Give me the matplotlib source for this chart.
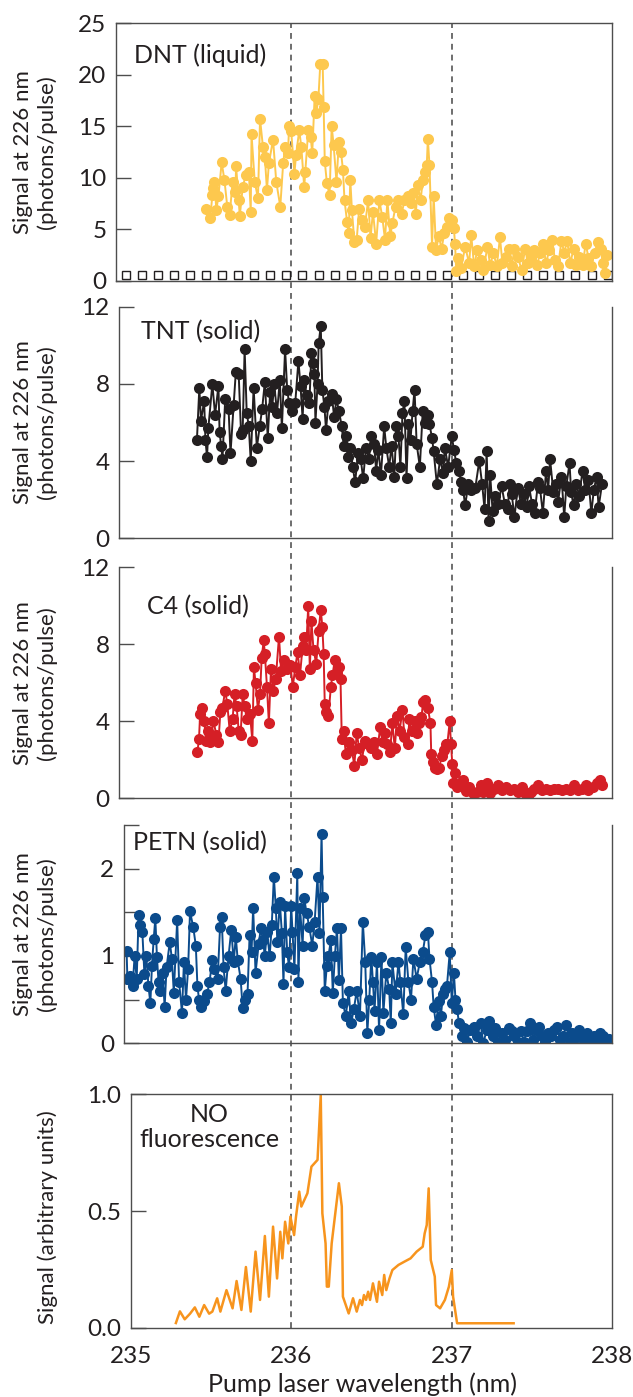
#!/usr/bin/env python3
"""Stacked plot: 226 nm signal vs pump laser wavelength for DNT, TNT, C4 and
PETN, plus the NO fluorescence reference trace at the bottom.

Usage:
    python3 plot.py      # writes out.png
"""

import matplotlib
matplotlib.use("Agg")
import matplotlib.pyplot as plt
from matplotlib.lines import Line2D
from matplotlib.transforms import blended_transform_factory

# ── Data ────────────────────────────────────────────────────────────────────

dnt_wl = [
    235.471, 235.496, 235.509, 235.514, 235.521, 235.534, 235.547, 235.567, 235.584, 235.602,
    235.617, 235.635, 235.652, 235.657, 235.673, 235.680, 235.698, 235.718, 235.736, 235.748,
    235.753, 235.773, 235.793, 235.806, 235.824, 235.836, 235.849, 235.861, 235.887, 235.907,
    235.932, 235.950, 235.962, 235.980, 235.987, 236.000, 236.020, 236.030, 236.050, 236.063,
    236.081, 236.088, 236.106, 236.121, 236.131, 236.146, 236.156, 236.169, 236.181, 236.196,
    236.202, 236.209, 236.222, 236.239, 236.252, 236.264, 236.282, 236.297, 236.310, 236.322,
    236.332, 236.348, 236.358, 236.368, 236.378, 236.393, 236.408, 236.423, 236.441, 236.458,
    236.479, 236.494, 236.509, 236.529, 236.549, 236.567, 236.584, 236.599, 236.617, 236.630,
    236.650, 236.668, 236.688, 236.705, 236.725, 236.743, 236.761, 236.776, 236.788, 236.806,
    236.819, 236.831, 236.844, 236.851, 236.861, 236.877, 236.887, 236.902, 236.919, 236.937,
    236.952, 236.970, 236.982, 237.003, 237.013, 237.020, 237.028, 237.038, 237.058, 237.083,
    237.108, 237.121, 237.139, 237.159, 237.179, 237.196, 237.222, 237.239, 237.259, 237.280,
    237.300, 237.315, 237.335, 237.355, 237.373, 237.390, 237.411, 237.436, 237.456, 237.474,
    237.491, 237.511, 237.532, 237.549, 237.567, 237.587, 237.607, 237.625, 237.642, 237.662,
    237.683, 237.700, 237.718, 237.738, 237.758, 237.776, 237.793, 237.814, 237.834, 237.851,
    237.869, 237.889, 237.909, 237.927, 237.940, 237.952, 237.965,
]
dnt_sig = [
    7.0, 6.1, 8.3, 9.0, 9.6, 6.9, 8.2, 11.5, 9.8, 7.2,
    6.4, 9.6, 8.6, 11.1, 7.8, 6.3, 9.1, 10.3, 10.6, 6.7,
    14.2, 9.6, 8.0, 15.7, 13.0, 12.0, 8.8, 11.4, 13.7, 9.6,
    7.2, 11.4, 13.0, 12.4, 15.0, 14.5, 10.4, 12.2, 14.6, 13.0,
    9.1, 10.6, 14.6, 14.0, 12.4, 17.9, 16.3, 17.6, 21.0, 21.0,
    16.9, 11.6, 9.5, 8.3, 15.0, 13.2, 9.6, 13.5, 12.5, 10.8,
    7.8, 5.7, 4.6, 9.8, 6.9, 3.8, 4.0, 7.0, 5.9, 5.2,
    7.8, 4.1, 6.7, 3.6, 7.8, 6.2, 4.0, 7.8, 4.3, 5.6,
    7.2, 7.8, 6.5, 7.8, 8.2, 7.5, 8.5, 6.5, 9.3, 7.8,
    9.8, 10.6, 11.2, 13.8, 11.2, 3.3, 8.2, 3.0, 4.3, 3.1,
    4.6, 5.2, 6.1, 5.9, 5.1, 3.6, 0.9, 2.2, 1.2, 3.3,
    1.7, 4.4, 1.4, 3.0, 2.0, 1.0, 3.3, 1.5, 2.7, 1.4,
    4.2, 1.7, 2.3, 3.1, 1.4, 3.1, 2.3, 1.0, 3.1, 1.7,
    2.3, 3.0, 1.5, 2.7, 3.6, 1.7, 3.0, 4.0, 2.0, 1.4,
    3.9, 2.7, 3.9, 1.7, 3.1, 1.5, 2.3, 1.5, 3.6, 2.2,
    1.4, 2.7, 3.8, 3.1, 1.7, 0.7, 2.5,
]

# blank (no sample) scan shown as open squares in the DNT panel
blank_wl = [
    234.97, 235.07, 235.17, 235.27, 235.37, 235.47, 235.57, 235.67, 235.77, 235.87,
    235.97, 236.07, 236.17, 236.27, 236.37, 236.47, 236.57, 236.67, 236.77, 236.87,
    236.97, 237.07, 237.17, 237.27, 237.37, 237.47, 237.57, 237.67, 237.77, 237.87,
    237.97,
]
blank_sig = [
    0.55, 0.55, 0.55, 0.55, 0.55, 0.55, 0.55, 0.55, 0.55, 0.55,
    0.55, 0.55, 0.55, 0.55, 0.55, 0.55, 0.55, 0.55, 0.55, 0.55,
    0.55, 0.55, 0.55, 0.55, 0.55, 0.55, 0.55, 0.55, 0.55, 0.55,
    0.55,
]

tnt_wl = [
    235.413, 235.428, 235.438, 235.458, 235.466, 235.476, 235.484, 235.509, 235.526, 235.547,
    235.554, 235.564, 235.572, 235.589, 235.610, 235.622, 235.642, 235.655, 235.673, 235.688,
    235.698, 235.710, 235.723, 235.736, 235.748, 235.766, 235.786, 235.804, 235.819, 235.836,
    235.854, 235.869, 235.882, 235.894, 235.912, 235.929, 235.942, 235.962, 235.975, 235.987,
    236.005, 236.025, 236.045, 236.058, 236.071, 236.081, 236.096, 236.113, 236.126, 236.134,
    236.144, 236.151, 236.164, 236.171, 236.184, 236.194, 236.207, 236.217, 236.232, 236.252,
    236.267, 236.282, 236.297, 236.315, 236.327, 236.340, 236.353, 236.368, 236.383, 236.398,
    236.416, 236.433, 236.448, 236.466, 236.484, 236.499, 236.516, 236.529, 236.542, 236.559,
    236.579, 236.592, 236.610, 236.625, 236.642, 236.655, 236.668, 236.680, 236.693, 236.705,
    236.718, 236.730, 236.743, 236.756, 236.768, 236.781, 236.801, 236.819, 236.831, 236.851,
    236.861, 236.877, 236.887, 236.907, 236.927, 236.945, 236.957, 236.977, 237.000, 237.013,
    237.028, 237.045, 237.058, 237.071, 237.083, 237.103, 237.121, 237.146, 237.171, 237.189,
    237.204, 237.217, 237.229, 237.239, 237.254, 237.272, 237.290, 237.310, 237.330, 237.348,
    237.360, 237.373, 237.390, 237.411, 237.431, 237.448, 237.466, 237.481, 237.499, 237.516,
    237.537, 237.549, 237.567, 237.587, 237.600, 237.612, 237.632, 237.650, 237.662, 237.683,
    237.700, 237.713, 237.733, 237.743, 237.758, 237.776, 237.793, 237.814, 237.831, 237.851,
    237.869, 237.884, 237.902, 237.914, 237.935,
]
tnt_sig = [
    5.1, 7.8, 6.1, 7.1, 5.1, 4.2, 5.7, 8.0, 6.4, 7.9,
    5.5, 4.8, 4.1, 7.2, 6.7, 4.4, 6.9, 8.6, 8.5, 5.4,
    5.6, 9.8, 6.5, 5.8, 4.0, 7.8, 4.7, 5.8, 6.7, 8.1,
    5.2, 7.6, 6.8, 8.0, 6.5, 8.2, 5.7, 9.8, 7.7, 7.0,
    6.6, 7.0, 9.2, 7.9, 6.2, 8.2, 7.4, 7.0, 9.6, 9.1,
    8.5, 6.0, 8.0, 10.1, 11.0, 7.7, 6.8, 5.6, 7.1, 7.5,
    6.3, 7.2, 6.6, 5.8, 4.8, 5.3, 4.2, 4.7, 3.7, 2.9,
    4.4, 4.1, 3.1, 4.7, 4.1, 5.3, 4.9, 3.5, 4.6, 3.3,
    5.8, 4.7, 3.7, 4.8, 3.2, 5.8, 5.3, 3.7, 6.5, 7.1,
    3.1, 5.9, 5.1, 6.6, 7.7, 4.9, 3.7, 6.6, 6.0, 6.4,
    5.9, 5.2, 4.5, 2.8, 4.1, 3.4, 4.7, 3.7, 5.3, 4.6,
    3.9, 3.5, 2.9, 2.5, 1.7, 2.8, 2.5, 2.6, 4.0, 2.8,
    1.5, 4.5, 0.9, 3.3, 1.4, 2.2, 1.8, 2.7, 1.8, 1.5,
    2.8, 2.3, 1.1, 2.6, 1.8, 2.3, 1.6, 2.7, 1.8, 1.3,
    2.9, 2.6, 1.3, 3.5, 2.5, 4.1, 2.4, 2.8, 1.9, 3.2,
    1.1, 2.7, 3.9, 2.4, 1.7, 2.8, 2.2, 3.5, 2.5, 3.0,
    1.3, 2.5, 3.2, 1.6, 2.8,
]

c4_wl = [
    235.416, 235.426, 235.433, 235.446, 235.458, 235.471, 235.484, 235.496, 235.516, 235.534,
    235.547, 235.559, 235.572, 235.589, 235.602, 235.617, 235.635, 235.647, 235.660, 235.673,
    235.685, 235.698, 235.710, 235.723, 235.743, 235.758, 235.768, 235.778, 235.793, 235.806,
    235.816, 235.829, 235.836, 235.849, 235.861, 235.874, 235.889, 235.904, 235.924, 235.937,
    235.955, 235.975, 235.995, 236.010, 236.025, 236.040, 236.055, 236.071, 236.081, 236.093,
    236.106, 236.116, 236.126, 236.139, 236.156, 236.171, 236.184, 236.194, 236.202, 236.209,
    236.219, 236.232, 236.247, 236.257, 236.272, 236.285, 236.297, 236.307, 236.315, 236.327,
    236.340, 236.358, 236.378, 236.393, 236.408, 236.423, 236.441, 236.458, 236.479, 236.499,
    236.516, 236.534, 236.554, 236.569, 236.584, 236.599, 236.615, 236.630, 236.645, 236.660,
    236.675, 236.693, 236.705, 236.725, 236.736, 236.751, 236.768, 236.781, 236.796, 236.811,
    236.821, 236.836, 236.851, 236.867, 236.872, 236.882, 236.894, 236.907, 236.922, 236.937,
    236.952, 236.962, 236.972, 236.987, 236.995, 237.003, 237.008, 237.020, 237.033, 237.053,
    237.071, 237.088, 237.108, 237.129, 237.154, 237.179, 237.196, 237.222, 237.239, 237.265,
    237.290, 237.315, 237.340, 237.365, 237.390, 237.411, 237.436, 237.456, 237.474, 237.491,
    237.511, 237.537, 237.562, 237.587, 237.612, 237.637, 237.662, 237.688, 237.713, 237.738,
    237.758, 237.783, 237.808, 237.834, 237.851, 237.877, 237.902, 237.920, 237.935,
]
c4_sig = [
    2.4, 3.1, 4.4, 4.7, 4.0, 3.0, 3.5, 2.9, 4.0, 3.3,
    2.9, 4.5, 4.7, 5.6, 4.9, 3.5, 4.1, 5.4, 4.8, 3.5,
    3.3, 5.4, 4.8, 4.1, 4.4, 3.0, 6.8, 6.0, 4.6, 5.4,
    7.3, 8.2, 7.5, 5.8, 3.9, 6.7, 5.6, 6.2, 8.4, 6.6,
    7.2, 6.7, 6.9, 5.8, 6.8, 7.6, 6.4, 7.9, 8.4, 7.7,
    10.0, 6.7, 9.2, 7.7, 7.0, 8.7, 9.8, 8.9, 7.5, 4.9,
    4.5, 4.3, 5.8, 6.4, 7.2, 6.5, 6.8, 6.2, 3.1, 3.5,
    2.3, 2.9, 2.5, 1.7, 3.4, 2.6, 2.0, 3.0, 2.8, 2.6,
    2.9, 2.3, 3.7, 2.9, 3.4, 2.8, 2.4, 3.9, 2.6, 4.3,
    3.5, 4.6, 3.2, 2.8, 4.1, 3.5, 4.0, 3.4, 3.9, 4.2,
    5.0, 5.1, 4.7, 3.9, 2.3, 1.9, 1.6, 1.5, 1.6, 2.2,
    2.5, 2.8, 2.8, 4.0, 2.8, 1.8, 0.8, 1.3, 0.6, 0.8,
    0.95, 0.4, 0.6, 0.26, 0.35, 0.7, 0.35, 0.8, 0.26, 0.5,
    0.7, 0.45, 0.6, 0.45, 0.5, 0.35, 0.6, 0.26, 0.1, 0.35,
    0.5, 0.7, 0.45, 0.5, 0.45, 0.47, 0.5, 0.45, 0.5, 0.45,
    0.7, 0.45, 0.5, 0.7, 0.45, 0.6, 0.8, 0.95, 0.7,
]

petn_wl = [
    234.975, 234.980, 234.997, 235.013, 235.025, 235.038, 235.050, 235.060, 235.073, 235.086,
    235.098, 235.111, 235.123, 235.133, 235.144, 235.154, 235.164, 235.174, 235.186, 235.199,
    235.212, 235.224, 235.244, 235.257, 235.269, 235.290, 235.302, 235.320, 235.332, 235.345,
    235.358, 235.370, 235.390, 235.406, 235.416, 235.426, 235.441, 235.458, 235.476, 235.491,
    235.509, 235.521, 235.542, 235.557, 235.567, 235.579, 235.592, 235.610, 235.627, 235.642,
    235.655, 235.667, 235.685, 235.698, 235.710, 235.728, 235.741, 235.753, 235.763, 235.778,
    235.798, 235.811, 235.824, 235.836, 235.849, 235.866, 235.879, 235.892, 235.904, 235.914,
    235.929, 235.942, 235.952, 235.962, 235.975, 235.987, 236.000, 236.008, 236.020, 236.038,
    236.045, 236.055, 236.071, 236.081, 236.096, 236.113, 236.131, 236.146, 236.164, 236.176,
    236.189, 236.196, 236.209, 236.222, 236.232, 236.247, 236.259, 236.272, 236.285, 236.297,
    236.310, 236.322, 236.340, 236.358, 236.373, 236.390, 236.408, 236.428, 236.446, 236.461,
    236.474, 236.486, 236.499, 236.509, 236.519, 236.534, 236.547, 236.562, 236.574, 236.592,
    236.610, 236.620, 236.630, 236.650, 236.668, 236.680, 236.698, 236.713, 236.730, 236.746,
    236.761, 236.781, 236.801, 236.819, 236.836, 236.851, 236.861, 236.877, 236.887, 236.902,
    236.919, 236.932, 236.945, 236.957, 236.970, 236.987, 237.000, 237.013, 237.023, 237.033,
    237.045, 237.063, 237.078, 237.096, 237.113, 237.139, 237.159, 237.179, 237.196, 237.217,
    237.234, 237.254, 237.272, 237.290, 237.310, 237.330, 237.355, 237.373, 237.390, 237.411,
    237.431, 237.448, 237.466, 237.486, 237.506, 237.524, 237.542, 237.562, 237.582, 237.600,
    237.617, 237.637, 237.657, 237.675, 237.693, 237.713, 237.733, 237.751, 237.768, 237.789,
    237.809, 237.826, 237.844, 237.864, 237.884, 237.902, 237.920, 237.940, 237.960, 237.977,
]
petn_sig = [
    1.06, 0.74, 0.77, 0.66, 1.0, 0.74, 1.47, 1.35, 1.28, 0.79,
    1.0, 0.66, 0.46, 0.89, 1.2, 1.43, 0.99, 0.70, 0.60, 0.81,
    0.42, 0.87, 1.16, 0.97, 0.58, 1.41, 0.70, 0.35, 0.93, 0.50,
    0.85, 1.51, 1.33, 1.12, 0.66, 0.50, 0.42, 0.48, 0.56, 0.70,
    0.95, 0.85, 0.74, 1.33, 1.45, 0.87, 0.60, 1.0, 1.30, 0.93,
    1.22, 0.95, 0.74, 0.40, 0.50, 0.56, 1.24, 1.04, 1.55, 0.81,
    1.14, 1.32, 1.18, 1.0, 1.28, 1.0, 1.35, 1.91, 1.55, 1.16,
    1.62, 1.26, 0.68, 1.57, 1.04, 0.87, 1.57, 1.28, 0.85, 1.95,
    0.70, 1.55, 1.12, 1.66, 1.49, 1.33, 1.12, 1.39, 1.91, 1.26,
    2.40, 1.68, 0.60, 0.89, 1.0, 1.18, 0.58, 1.0, 1.32, 0.72,
    1.32, 0.46, 0.31, 0.60, 0.23, 0.39, 0.60, 0.31, 1.39, 0.93,
    0.12, 0.50, 0.99, 0.70, 0.37, 0.93, 0.15, 0.99, 0.35, 0.81,
    0.62, 0.23, 0.93, 0.56, 0.93, 0.70, 0.33, 1.10, 0.70, 0.50,
    0.97, 0.74, 0.93, 1.04, 1.24, 1.28, 0.97, 0.70, 0.42, 0.21,
    0.48, 0.31, 0.56, 0.62, 0.66, 1.04, 0.46, 0.81, 0.50, 0.39,
    0.23, 0.08, 0.17, 0.02, 0.15, 0.19, 0.08, 0.23, 0.0, 0.15,
    0.25, 0.08, 0.17, 0.0, 0.12, 0.04, 0.17, 0.14, 0.08, 0.02,
    0.14, 0.02, 0.14, 0.23, 0.04, 0.15, 0.19, 0.08, 0.02, 0.12,
    0.08, 0.15, 0.19, 0.04, 0.08, 0.21, 0.0, 0.12, 0.06, 0.15,
    0.08, 0.0, 0.12, 0.04, 0.08, 0.0, 0.12, 0.08, 0.04, 0.05,
]

no_wl = [
    235.282, 235.307, 235.337, 235.370, 235.400, 235.428, 235.458, 235.489, 235.509, 235.539,
    235.559, 235.597, 235.635, 235.660, 235.690, 235.718, 235.748, 235.778, 235.806, 235.836,
    235.861, 235.887, 235.912, 235.932, 235.945, 235.962, 235.982, 235.995, 236.018, 236.030,
    236.050, 236.063, 236.101, 236.126, 236.164, 236.184, 236.194, 236.214, 236.222, 236.234,
    236.252, 236.282, 236.297, 236.315, 236.322, 236.358, 236.385, 236.408, 236.428, 236.441,
    236.453, 236.466, 236.479, 236.491, 236.509, 236.534, 236.547, 236.567, 236.579, 236.592,
    236.612, 236.630, 236.668, 236.705, 236.743, 236.781, 236.819, 236.831, 236.844, 236.856,
    236.869, 236.894, 236.902, 236.927, 236.957, 236.982, 237.000, 237.008, 237.033, 237.385,
]
no_sig = [
    0.02, 0.07, 0.036, 0.06, 0.087, 0.047, 0.097, 0.06, 0.069, 0.126,
    0.069, 0.161, 0.083, 0.2, 0.076, 0.26, 0.069, 0.326, 0.119, 0.393,
    0.133, 0.433, 0.211, 0.411, 0.297, 0.454, 0.361, 0.476, 0.397, 0.476,
    0.583, 0.519, 0.576, 0.69, 0.719, 0.997, 0.49, 0.361, 0.176, 0.176,
    0.361, 0.533, 0.619, 0.519, 0.133, 0.061, 0.126, 0.069, 0.119, 0.097,
    0.14, 0.119, 0.154, 0.119, 0.19, 0.111, 0.197, 0.14, 0.226, 0.161,
    0.211, 0.247, 0.269, 0.283, 0.297, 0.326, 0.347, 0.404, 0.44, 0.597,
    0.29, 0.219, 0.097, 0.083, 0.119, 0.176, 0.247, 0.133, 0.019, 0.019,
]

dashed_wl = [236.0, 237.0]

# ── Layout (pixels of the 633 x 1397 output) ────────────────────────────────

FIG_W, FIG_H, DPI = 633, 1397, 100
X_235, X_238 = 130.6, 612.4
PX_PER_NM = (X_238 - X_235) / 3.0

TEXT = "#231f20"
SPINE = "#4d4d4d"
FONT = ["Lato", "DejaVu Sans"]
TICK_SIZE = 17.5
LABEL_SIZE = 18
YLABEL_226 = "Signal at 226 nm\n(photons/pulse)"

PANELS = [
    dict(wl=dnt_wl, sig=dnt_sig, color="#fdc84e", xmin=234.91, top=23.3, bottom=280.7,
         ylim=(0, 25), yticks=[0, 5, 10, 15, 20, 25], minor=[], box=True,
         title="DNT (liquid)", title_xy=(134, 55)),
    dict(wl=tnt_wl, sig=tnt_sig, color="#231f20", xmin=234.93, top=306.7, bottom=538.3,
         ylim=(0, 12), yticks=[0, 4, 8, 12], minor=[], box=False,
         title="TNT (solid)", title_xy=(141, 332)),
    dict(wl=c4_wl, sig=c4_sig, color="#d51f26", xmin=234.93, top=567.3, bottom=798.3,
         ylim=(0, 12), yticks=[0, 4, 8, 12], minor=[], box=False,
         title="C4 (solid)", title_xy=(147, 607)),
    dict(wl=petn_wl, sig=petn_sig, color="#0b4b8c", xmin=234.96, top=825.0, bottom=1043.3,
         ylim=(0, 2.5), yticks=[0, 1, 2], minor=[0.5, 1.5, 2.5], box=False,
         title="PETN (solid)", title_xy=(133, 843)),
]


def add_axes(fig, xmin, top, bottom):
    left = X_235 + (xmin - 235.0) * PX_PER_NM
    rect = [left / FIG_W, 1 - bottom / FIG_H, (X_238 - left) / FIG_W, (bottom - top) / FIG_H]
    ax = fig.add_axes(rect)
    ax.set_xlim(xmin, 238.0)
    ax.patch.set_alpha(0)
    for side in ax.spines.values():
        side.set_color(SPINE)
        side.set_linewidth(1.0)
    ax.tick_params(axis="y", which="both", direction="in", length=11, width=1.0,
                   color=SPINE, labelsize=TICK_SIZE, labelcolor=TEXT, pad=7)
    return ax


def main() -> None:
    plt.rcParams["font.family"] = FONT
    fig = plt.figure(figsize=(FIG_W / DPI, FIG_H / DPI), dpi=DPI)
    fig.patch.set_facecolor("white")

    for p in PANELS:
        ax = add_axes(fig, p["xmin"], p["top"], p["bottom"])
        ax.set_ylim(*p["ylim"])
        ax.set_yticks(p["yticks"])
        ax.set_yticks(p["minor"], minor=True)
        ax.set_xticks([])
        ax.spines["top"].set_visible(p["box"])
        if p["wl"] is dnt_wl:
            ax.plot(blank_wl, blank_sig, linestyle="none", marker="s", markersize=6,
                    markerfacecolor="white", markeredgecolor=TEXT, markeredgewidth=1.0)
        ax.plot(p["wl"], p["sig"], color=p["color"], linewidth=1.4, marker="o",
                markersize=8, markeredgewidth=0)
        tx, ty = p["title_xy"]
        fig.text(tx / FIG_W, 1 - ty / FIG_H, p["title"], ha="left", va="center",
                 fontsize=LABEL_SIZE, color=TEXT)
        fig.text(35 / FIG_W, 1 - (p["top"] + p["bottom"]) / 2 / FIG_H, YLABEL_226,
                 rotation=90, ha="center", va="center", ma="center", fontsize=16,
                 color=TEXT, linespacing=1.2)

    # NO fluorescence reference trace
    ax5 = add_axes(fig, 235.0, 1094.3, 1327.7)
    ax5.set_ylim(0, 1.0)
    ax5.set_yticks([0.0, 0.5, 1.0])
    ax5.set_yticklabels(["0.0", "0.5", "1.0"])
    ax5.set_xticks([235, 236, 237, 238])
    ax5.tick_params(axis="x", length=0, labelsize=TICK_SIZE, labelcolor=TEXT, pad=13)
    ax5.plot(no_wl, no_sig, color="#f7941d", linewidth=1.8)
    fig.text(209 / FIG_W, 1 - 1127 / FIG_H, "NO\nfluorescence", ha="center", va="center",
             ma="center", fontsize=LABEL_SIZE, color=TEXT, linespacing=1.15)
    fig.text(48 / FIG_W, 1 - 1217 / FIG_H, "Signal (arbitrary units)", rotation=90,
             ha="center", va="center", fontsize=16, color=TEXT)
    fig.text(362 / FIG_W, 1 - 1384 / FIG_H, "Pump laser wavelength (nm)", ha="center",
             va="center", fontsize=LABEL_SIZE, color=TEXT)

    # dashed guides running through every panel
    trans = blended_transform_factory(ax5.transData, fig.transFigure)
    for wl in dashed_wl:
        fig.add_artist(Line2D([wl, wl], [1 - 1327.7 / FIG_H, 1 - 23.3 / FIG_H],
                              transform=trans, color="#555555", linewidth=1.2,
                              linestyle=(0, (3.5, 3)), zorder=-1))

    fig.savefig("out.png", dpi=DPI, facecolor="white")


if __name__ == "__main__":
    main()
